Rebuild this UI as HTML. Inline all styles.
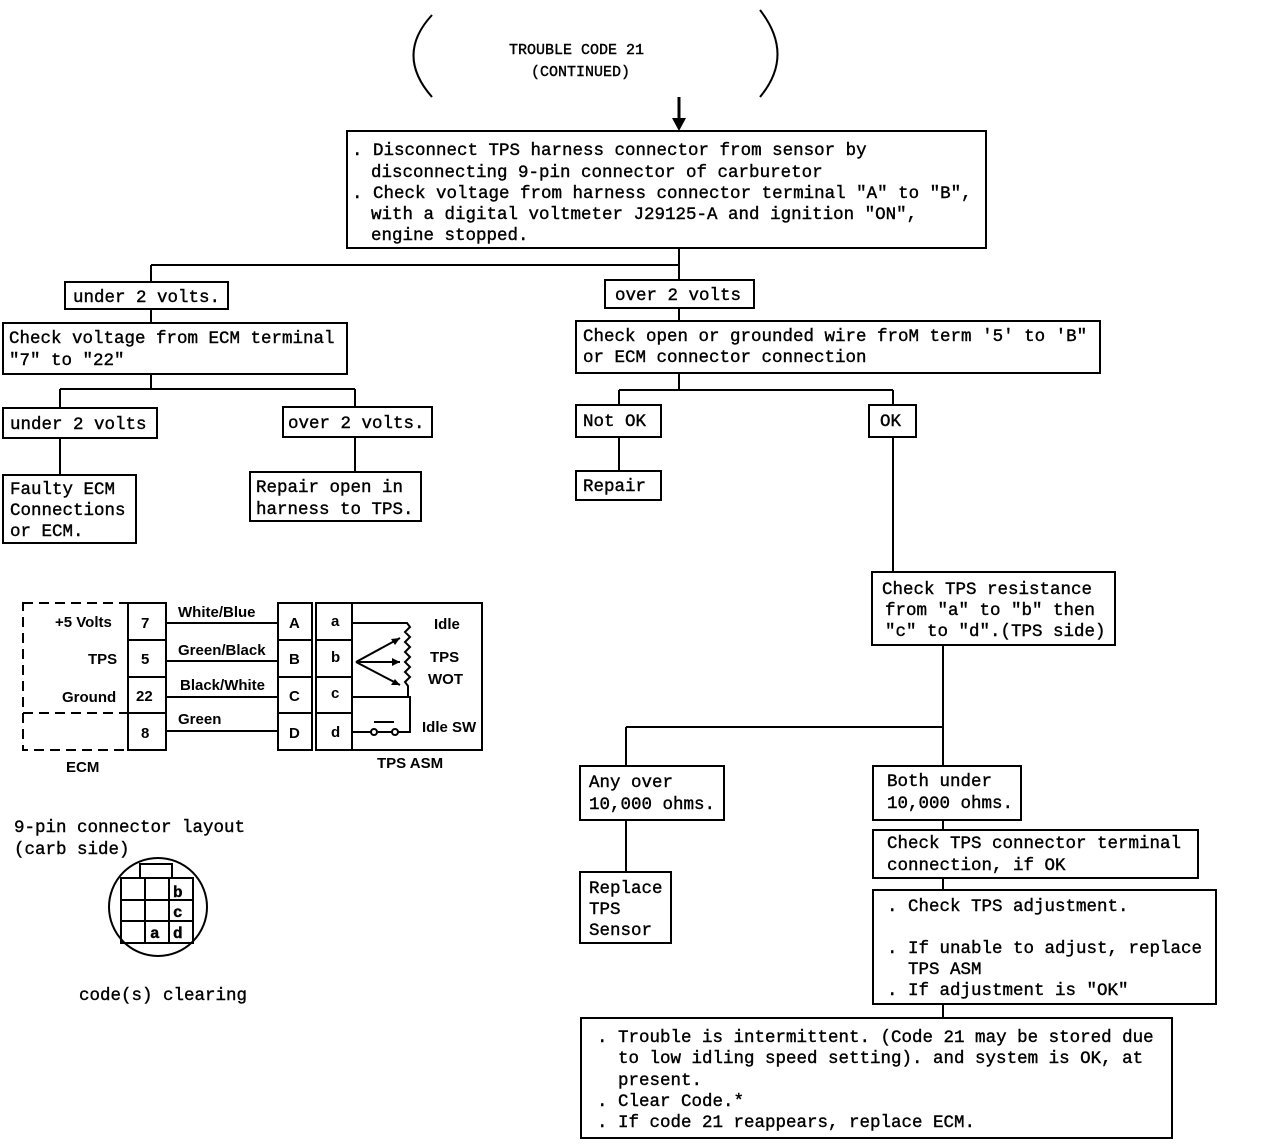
<!DOCTYPE html>
<html><head><meta charset="utf-8"><style>
html,body{margin:0;padding:0;background:#fff}
svg{display:block}
text{font-family:"Liberation Mono",monospace;font-size:17.5px;fill:#000;stroke:#000;stroke-width:0.4}
.s{font-family:"Liberation Sans",sans-serif;font-weight:bold;font-size:15px;stroke-width:0}
</style></head><body>
<svg width="1264" height="1148" viewBox="0 0 1264 1148" xmlns="http://www.w3.org/2000/svg">
<g fill="none" stroke="#000" stroke-width="2">
<path d="M432 15 Q395 55 432 97"/>
<path d="M760 10 Q795 55 760 97"/>
<line x1="679" y1="97" x2="679" y2="120" stroke-width="3"/>
<rect x="347" y="131" width="639" height="117"/>
<rect x="65" y="282" width="163" height="27"/>
<rect x="605" y="280" width="149" height="28"/>
<rect x="3" y="323" width="344" height="51"/>
<rect x="3" y="408" width="154" height="30"/>
<rect x="283" y="407" width="149" height="30"/>
<rect x="3" y="475" width="133" height="68"/>
<rect x="250" y="472" width="171" height="49"/>
<rect x="576" y="321" width="524" height="52"/>
<rect x="576" y="405" width="85" height="32"/>
<rect x="869" y="405" width="47" height="32"/>
<rect x="576" y="471" width="85" height="29"/>
<rect x="872" y="572" width="243" height="73"/>
<rect x="580" y="766" width="144" height="54"/>
<rect x="873" y="766" width="148" height="54"/>
<rect x="580" y="872" width="91" height="71"/>
<rect x="873" y="830" width="325" height="48"/>
<rect x="873" y="890" width="343" height="114"/>
<rect x="581" y="1018" width="591" height="120"/>
<path d="M679 248V280M679 308V321M151 265H679M151 265V282M151 309V323M151 374V389M60 389H355M60 389V408M355 389V407M60 438V475M355 437V472"/>
<path d="M679 373V390M619 390H893M619 390V405M893 390V405M619 437V471M893 437V572M943 645V766M626 727H943M626 727V766M626 820V872M943 820V830M943 878V890M943 1004V1018"/>
<path d="M23 603H128V750H23Z" stroke-dasharray="10 6"/>
<path d="M23 713H128" stroke-dasharray="10 6"/>
<rect x="128" y="603" width="38" height="147"/>
<path d="M128 640H166M128 677H166M128 713H166"/>
<path d="M166 623H278M166 661H278M166 697H278M166 731H278"/>
<rect x="278" y="603" width="34" height="147"/>
<path d="M278 640H312M278 677H312M278 713H312"/>
<rect x="316" y="603" width="166" height="147"/>
<path d="M352 603V750M316 640H352M316 677H352M316 713H352"/>
<path d="M352 623H407l3 4-5 5 5 5-5 5 5 5-5 5 5 5-5 5 5 5-5 5 5 5-5 5 3 4V697M352 697H410V732H398M352 732H371M378 732H392M374 722H394"/>
<path d="M356 662L400 638M356 662L400 662M356 662L400 685"/>
<circle cx="374" cy="732" r="3"/><circle cx="395" cy="732" r="3"/>
<circle cx="158" cy="907" r="49"/>
<rect x="121" y="878" width="72" height="65"/>
<path d="M145 878V943M169 878V943M121 900H193M121 921H193"/>
<rect x="140" y="864" width="32" height="14"/>
</g>
<path d="M672 118H686L679 131Z" fill="#000"/>
<g fill="#000"><path d="M400 638l-9 1 4 6Z"/><path d="M400 662l-8-4v8Z"/><path d="M400 685l-5-6-4 6Z"/></g>
<text x="509" y="54" style="font-size:15px">TROUBLE CODE 21</text>
<text x="531" y="76" style="font-size:15px">(CONTINUED)</text>
<text x="352" y="155">. Disconnect TPS harness connector from sensor by</text>
<text x="371" y="177">disconnecting 9-pin connector of carburetor</text>
<text x="352" y="198">. Check voltage from harness connector terminal "A" to "B",</text>
<text x="371" y="219">with a digital voltmeter J29125-A and ignition "ON",</text>
<text x="371" y="240">engine stopped.</text>
<text x="73" y="302">under 2 volts.</text>
<text x="615" y="300">over 2 volts</text>
<text x="9" y="343">Check voltage from ECM terminal</text>
<text x="9" y="365">"7" to "22"</text>
<text x="10" y="429">under 2 volts</text>
<text x="288" y="428">over 2 volts.</text>
<text x="10" y="494">Faulty ECM</text>
<text x="10" y="515">Connections</text>
<text x="10" y="536">or ECM.</text>
<text x="256" y="492">Repair open in</text>
<text x="256" y="514">harness to TPS.</text>
<text x="583" y="341">Check open or grounded wire froM term '5' to 'B"</text>
<text x="583" y="362">or ECM connector connection</text>
<text x="583" y="426">Not OK</text>
<text x="880" y="426">OK</text>
<text x="583" y="491">Repair</text>
<text x="882" y="594">Check TPS resistance</text>
<text x="885" y="615">from "a" to "b" then</text>
<text x="885" y="636">"c" to "d".(TPS side)</text>
<text x="589" y="787">Any over</text>
<text x="589" y="809">10,000 ohms.</text>
<text x="887" y="786">Both under</text>
<text x="887" y="808">10,000 ohms.</text>
<text x="589" y="893">Replace</text>
<text x="589" y="914">TPS</text>
<text x="589" y="935">Sensor</text>
<text x="887" y="848">Check TPS connector terminal</text>
<text x="887" y="870">connection, if OK</text>
<text x="887" y="911">. Check TPS adjustment.</text>
<text x="887" y="953">. If unable to adjust, replace</text>
<text x="908" y="974">TPS ASM</text>
<text x="887" y="995">. If adjustment is "OK"</text>
<text x="597" y="1042">. Trouble is intermittent. (Code 21 may be stored due</text>
<text x="618" y="1063">to low idling speed setting). and system is OK, at</text>
<text x="618" y="1085">present.</text>
<text x="597" y="1106">. Clear Code.*</text>
<text x="597" y="1127">. If code 21 reappears, replace ECM.</text>
<text x="14" y="832">9-pin connector layout</text>
<text x="14" y="854">(carb side)</text>
<text x="79" y="1000">code(s) clearing</text>
<text class="s" x="55" y="627">+5 Volts</text>
<text class="s" x="88" y="664">TPS</text>
<text class="s" x="62" y="702">Ground</text>
<text class="s" x="141" y="628">7</text>
<text class="s" x="141" y="664">5</text>
<text class="s" x="136" y="701">22</text>
<text class="s" x="141" y="738">8</text>
<text class="s" x="178" y="617">White/Blue</text>
<text class="s" x="178" y="655">Green/Black</text>
<text class="s" x="180" y="690">Black/White</text>
<text class="s" x="178" y="724">Green</text>
<text class="s" x="289" y="628">A</text>
<text class="s" x="289" y="664">B</text>
<text class="s" x="289" y="701">C</text>
<text class="s" x="289" y="738">D</text>
<text class="s" x="331" y="626">a</text>
<text class="s" x="331" y="662">b</text>
<text class="s" x="331" y="698">c</text>
<text class="s" x="331" y="737">d</text>
<text class="s" x="434" y="629">Idle</text>
<text class="s" x="430" y="662">TPS</text>
<text class="s" x="428" y="684">WOT</text>
<text class="s" x="422" y="732">Idle SW</text>
<text class="s" x="66" y="772">ECM</text>
<text class="s" x="377" y="768">TPS ASM</text>
<text x="173" y="897" style="font-size:16px;font-weight:bold">b</text>
<text x="173" y="917" style="font-size:16px;font-weight:bold">c</text>
<text x="150" y="938" style="font-size:16px;font-weight:bold">a</text>
<text x="173" y="938" style="font-size:16px;font-weight:bold">d</text>
</svg>
</body></html>
